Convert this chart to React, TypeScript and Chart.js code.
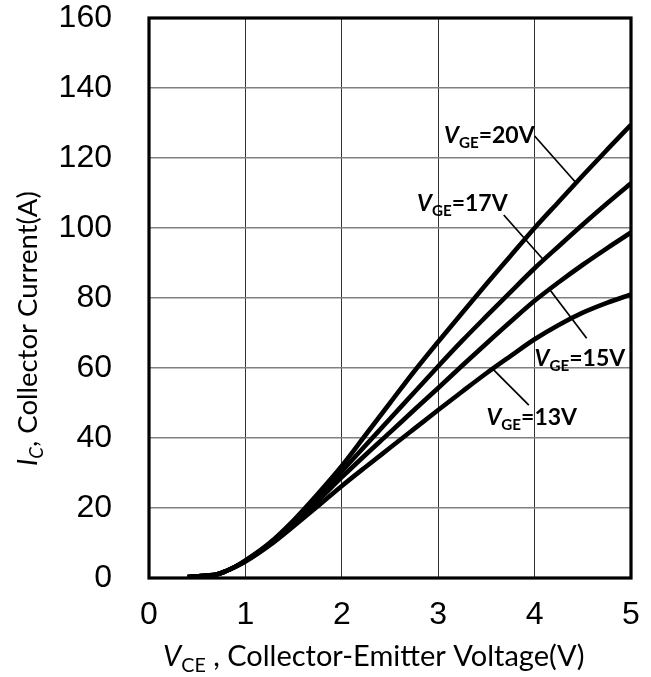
import React, { useEffect, useRef } from 'react';
import { Chart, registerables } from 'chart.js';

Chart.register(...registerables);

// ---------- data ----------
const vce = [0.4, 0.5, 0.6, 0.7, 0.8, 0.9, 1.0, 1.25, 1.5, 1.75, 2.0, 2.25, 2.5, 2.75, 3.0, 3.25, 3.5, 3.75, 4.0, 4.25, 4.5, 4.75, 5.0];
const ic20 = [0.3, 0.5, 0.7, 1.0, 2.0, 3.3, 5.0, 10.0, 16.5, 24.0, 32.0, 41.0, 50.0, 59.0, 67.5, 75.8, 84.0, 92.0, 100.0, 107.5, 115.0, 122.3, 129.5];
const ic17 = [0.3, 0.5, 0.7, 1.0, 2.0, 3.3, 4.9, 9.8, 16.0, 23.0, 30.5, 38.0, 45.5, 53.0, 60.5, 67.8, 74.8, 81.7, 88.5, 94.8, 101.0, 107.0, 112.8];
const ic15 = [0.3, 0.5, 0.7, 1.0, 2.0, 3.3, 4.8, 9.6, 15.5, 22.0, 28.8, 35.3, 41.6, 48.0, 54.3, 60.7, 67.0, 73.2, 79.2, 84.5, 89.5, 94.2, 98.7];
const ic13 = [0.3, 0.5, 0.7, 1.0, 2.0, 3.3, 4.7, 9.3, 14.8, 20.5, 26.3, 31.8, 37.2, 42.6, 48.0, 53.3, 58.5, 63.4, 68.2, 72.3, 75.8, 78.6, 81.0];

const xTicks = [0, 1, 2, 3, 4, 5];
const yTicks = [0, 20, 40, 60, 80, 100, 120, 140, 160];

const seriesNames = ['20V', '17V', '15V', '13V'];
const seriesValues = [ic20, ic17, ic15, ic13];

// annotation anchors in data units (V, A)
const labelLeftV = [3.06, 2.78, 4.0, 3.5];
const labelMidI = [126.6, 107.3, 62.9, 46.1];
const leaderFromV = [4.0, 3.68, 4.54, 3.94];
const leaderFromI = [126.3, 103.7, 68.5, 49.4];
const leaderToV = [4.42, 4.08, 4.16, 3.57];
const leaderToI = [113.2, 91.3, 82.3, 59.6];

const xTitleParts = [
  { t: 'V', italic: true },
  { t: 'CE', sub: true },
  { t: ' , Collector-Emitter Voltage(V)' },
];
const yTitleParts = [
  { t: 'I', italic: true },
  { t: 'C', italic: true, sub: true },
  { t: ', Collector Current(A)' },
];

type Part = { t: string; italic?: boolean; sub?: boolean };

function drawRich(
  ctx: CanvasRenderingContext2D,
  parts: Part[],
  x: number,
  y: number,
  size: number,
  bold: boolean,
  family: string,
  subScale: number,
  subDrop: number
) {
  let cx = x;
  for (const p of parts) {
    const s = p.sub ? size * subScale : size;
    ctx.font = `${p.italic ? 'italic ' : ''}${bold ? 'bold ' : ''}${s}px ${family}`;
    ctx.fillText(p.t, cx, y + (p.sub ? size * subDrop : 0));
    cx += ctx.measureText(p.t).width;
  }
  return cx - x;
}

const overlayPlugin = {
  id: 'overlay',
  afterDatasetsDraw(chart: any) {
    const { ctx, chartArea } = chart;
    const xs = chart.scales.x;
    const ys = chart.scales.y;
    ctx.save();
    // frame
    ctx.strokeStyle = '#000';
    ctx.lineWidth = 3.2;
    ctx.strokeRect(chartArea.left, chartArea.top, chartArea.right - chartArea.left, chartArea.bottom - chartArea.top);

    // leaders
    ctx.lineWidth = 1.7;
    for (let i = 0; i < seriesNames.length; i++) {
      ctx.beginPath();
      ctx.moveTo(xs.getPixelForValue(leaderFromV[i]), ys.getPixelForValue(leaderFromI[i]));
      ctx.lineTo(xs.getPixelForValue(leaderToV[i]), ys.getPixelForValue(leaderToI[i]));
      ctx.stroke();
    }

    // labels
    ctx.fillStyle = '#000';
    ctx.textBaseline = 'alphabetic';
    ctx.textAlign = 'left';
    const lsize = 23;
    for (let i = 0; i < seriesNames.length; i++) {
      const x = xs.getPixelForValue(labelLeftV[i]);
      const y = ys.getPixelForValue(labelMidI[i]) + lsize * 0.36;
      drawRich(
        ctx,
        [
          { t: 'V', italic: true },
          { t: 'GE', sub: true },
          { t: '=' + seriesNames[i] },
        ],
        x,
        y,
        lsize,
        true,
        'Lato',
        0.66,
        0.22
      );
    }

    // x title
    drawRich(ctx, xTitleParts, 163, 666, 29, false, 'Lato', 0.68, 0.2);

    // y title
    ctx.translate(37, 466);
    ctx.rotate(-Math.PI / 2);
    drawRich(ctx, yTitleParts, 0, 0, 27.5, false, 'Lato', 0.68, 0.2);
    ctx.restore();
  },
};

export default function App() {
  const ref = useRef<HTMLCanvasElement | null>(null);
  useEffect(() => {
    if (!ref.current) return;
    const chart = new Chart(ref.current, {
      type: 'line',
      data: {
        datasets: seriesValues.map((vals, i) => ({
          label: seriesNames[i],
          data: vce.map((v, j) => ({ x: v, y: vals[j] })),
          borderColor: '#000',
          backgroundColor: '#000',
          borderWidth: 4.6,
          pointRadius: 0,
          cubicInterpolationMode: 'monotone' as const,
          fill: false,
        })),
      },
      options: {
        animation: false,
        responsive: false,
        maintainAspectRatio: false,
        layout: { padding: { top: 18, right: 20, left: 0, bottom: 0 } },
        plugins: { legend: { display: false }, tooltip: { enabled: false } },
        scales: {
          x: {
            type: 'linear',
            min: 0,
            max: 5,
            afterBuildTicks: (s: any) => {
              s.ticks = xTicks.map((v) => ({ value: v }));
            },
            afterFit: (s: any) => {
              s.height = 99;
              s.paddingLeft = 0;
              s.paddingRight = 0;
              s.paddingTop = 0;
              s.paddingBottom = 0;
            },
            grid: { color: '#333', lineWidth: 1, drawTicks: false },
            border: { display: false },
            ticks: {
              font: { family: 'Liberation Sans', size: 32 },
              color: '#000',
              padding: 18,
              maxRotation: 0,
              autoSkip: false,
            },
          },
          y: {
            type: 'linear',
            min: 0,
            max: 160,
            afterBuildTicks: (s: any) => {
              s.ticks = yTicks.map((v) => ({ value: v }));
            },
            afterFit: (s: any) => {
              s.width = 149;
              s.paddingLeft = 0;
              s.paddingRight = 0;
              s.paddingTop = 0;
              s.paddingBottom = 0;
            },
            grid: { color: '#808080', lineWidth: 1.5, drawTicks: false },
            border: { display: false },
            ticks: {
              font: { family: 'Liberation Sans', size: 32 },
              color: '#000',
              padding: 37,
              autoSkip: false,
            },
          },
        },
      },
      plugins: [overlayPlugin],
    });
    return () => chart.destroy();
  }, []);
  return (
    <div style={{ position: 'absolute', left: 0, top: 0, width: 651, height: 677, background: '#fff' }}>
      <canvas ref={ref} width={651} height={677} style={{ width: 651, height: 677, display: 'block' }} />
    </div>
  );
}
